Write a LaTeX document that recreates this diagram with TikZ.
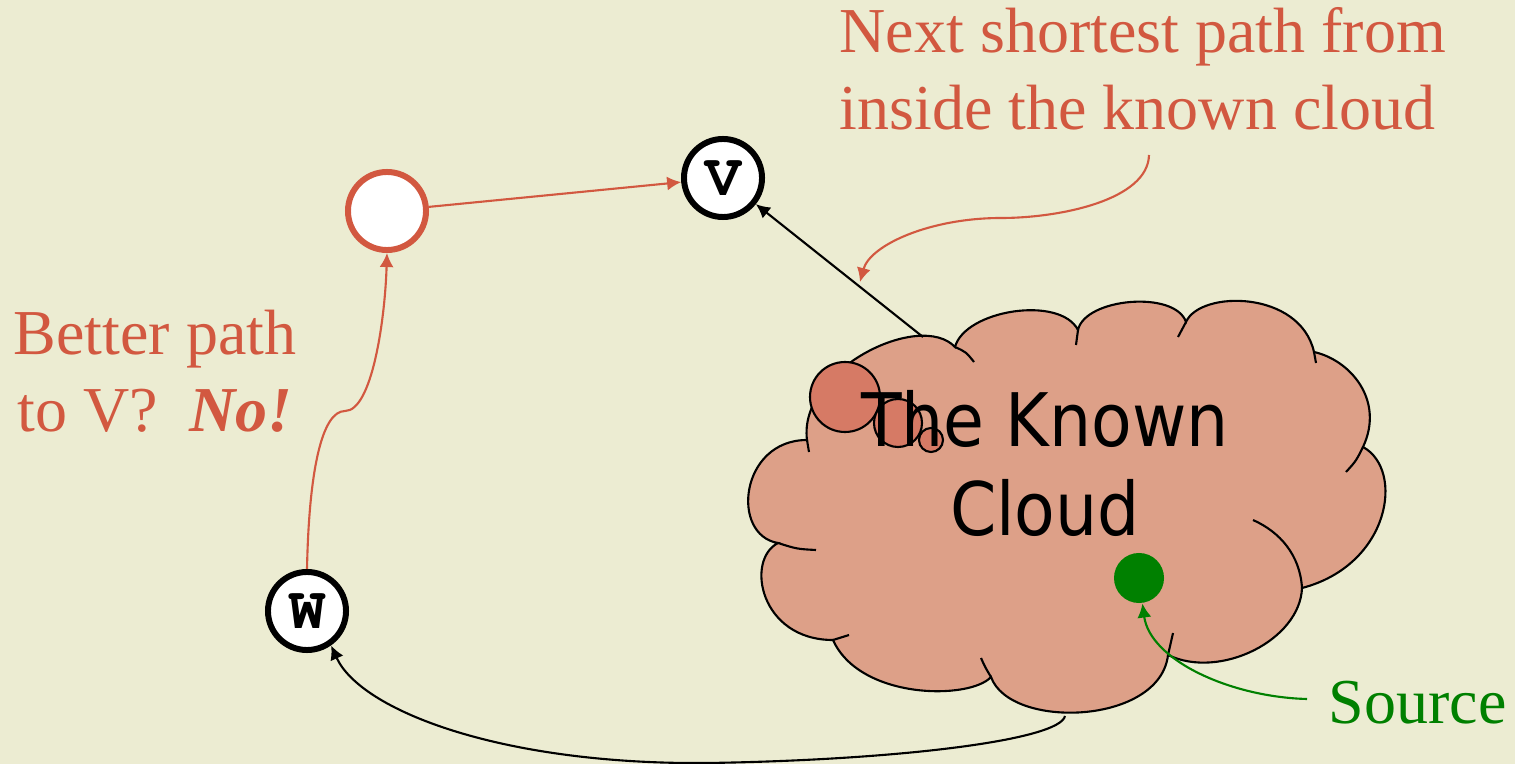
\documentclass[tikz,border=0pt]{standalone}
\usepackage{fontspec}
\setmainfont{Liberation Serif}
\newfontfamily\cloudfont[FakeStretch=0.9]{DejaVu Sans}
\newfontfamily\vertexfont{TeX Gyre Cursor}
\usetikzlibrary{arrows.meta}

\definecolor{paper}{RGB}{236,236,210}
\definecolor{hintred}{RGB}{210,88,64}
\definecolor{cloudfill}{RGB}{221,160,136}
\definecolor{bubblefill}{RGB}{214,122,101}
\definecolor{srcgreen}{RGB}{0,128,0}

\tikzset{
  vertex/.style={circle,draw=black,line width=1.7pt,fill=white,minimum size=0.78cm,
    inner sep=0pt,font=\vertexfont\bfseries\fontsize{17}{17}\selectfont},
  edge/.style={line width=0.6pt,-{Latex[length=4pt,width=4pt]}},
  note/.style={text=hintred,inner sep=0pt,font=\fontsize{18.2}{21.9}\selectfont}
}

\begin{document}
\begin{tikzpicture}[x=0.01cm,y=-0.01cm]

        % Page
        \fill[paper] (0,0) rectangle (1515,764);
        \useasboundingbox (0,0) rectangle (1515,764);

        % The known cloud, one puff after the other
        \draw[fill=cloudfill,line width=0.6pt] (807,440)
            .. controls (798,370) and (920,310) .. (955,347)
            .. controls (965,310) and (1060,295) .. (1078,330)
            .. controls (1085,298) and (1175,290) .. (1186,322)
            .. controls (1200,290) and (1300,290) .. (1314,352)
            .. controls (1350,360) and (1385,400) .. (1363,447)
            .. controls (1405,470) and (1390,565) .. (1302,588)
            .. controls (1300,640) and (1220,680) .. (1168,655)
            .. controls (1160,725) and (1010,730) .. (991,677)
            .. controls (970,700) and (860,700) .. (833,640)
            .. controls (760,640) and (745,560) .. (778,543)
            .. controls (730,535) and (740,440) .. cycle;

        % Puff ends curling inside
        \draw[line width=0.6pt] (807,440) .. controls (808,446) .. (809,452);
        \draw[line width=0.6pt] (955,347) .. controls (966,352) .. (974,362);
        \draw[line width=0.6pt] (1078,330) .. controls (1077,338) .. (1076,345);
        \draw[line width=0.6pt] (1186,322) .. controls (1182,330) .. (1178,337);
        \draw[line width=0.6pt] (1314,352) .. controls (1315,358) .. (1316,363);
        \draw[line width=0.6pt] (1363,447) .. controls (1356,461) .. (1346,472);
        \draw[line width=0.6pt] (1302,588) .. controls (1300,555) and (1280,532) .. (1253,520);
        \draw[line width=0.6pt] (1168,655) .. controls (1171,644) .. (1173,633);
        \draw[line width=0.6pt] (991,677) .. controls (985,667) .. (981,658);
        \draw[line width=0.6pt] (833,640) .. controls (841,638) .. (849,635);
        \draw[line width=0.6pt] (778,543) .. controls (797,549) .. (816,550);

        % Bubbles
        \draw[fill=bubblefill,line width=0.6pt] (845,397) circle (35);
        \draw[fill=bubblefill,line width=0.6pt] (898,423) circle (24);
        \draw[fill=bubblefill,line width=0.6pt] (931,440) circle (12);

        \node[font=\cloudfont\fontsize{21}{25.3}\selectfont,align=center,anchor=base,inner sep=0pt]
            (known) at (1045,535) {The Known\\Cloud};

        % Vertices
        \node[circle,fill=srcgreen,minimum size=0.5cm,inner sep=0pt] (src) at (1139,578) {};
        \node[vertex] (v) at (723,178) {V};
        \node[vertex] (w) at (307,611) {W};
        \node[vertex,draw=hintred] (u) at (387,211) {};

        % Edges
        \coordinate (cloudtop) at (923,337);
        \coordinate (cloudbottom) at (1065,716);
        \draw[edge] (cloudtop) -- (v);
        \draw[edge] (cloudbottom) .. controls (1060,740) and (900,760) .. (708,763)
            .. controls (500,765) and (360,710) .. (w.-55);
        \draw[edge,hintred] (u) -- (v);
        \draw[edge,hintred] (w.north) .. controls (309,470) and (322,411) .. (345,411)
            .. controls (372,411) and (385,320) .. (u.south);

        % Labels
        \node[note,anchor=base west,align=left] (nextnote) at (839,130)
            {Next shortest path from\\inside the known cloud};
        \coordinate (nexttail) at (1149,155);
        \coordinate (nexthead) at (860,282);
        \draw[edge,hintred] (nexttail) .. controls (1148,200) and (1060,218) .. (1001,218)
            .. controls (930,218) and (870,245) .. (nexthead);

        \node[note,anchor=base,align=center] (betternote) at (155,432)
            {Better path\\to V?\ \ \textbf{\textit{No!}}};

        \node[note,text=srcgreen,anchor=base west] (srcnote) at (1328,723) {Source};
        \coordinate (srctail) at (1307,699);
        \draw[edge,srcgreen] (srctail) .. controls (1230,697) and (1150,660) .. (src);

    \end{tikzpicture}
\end{document}
